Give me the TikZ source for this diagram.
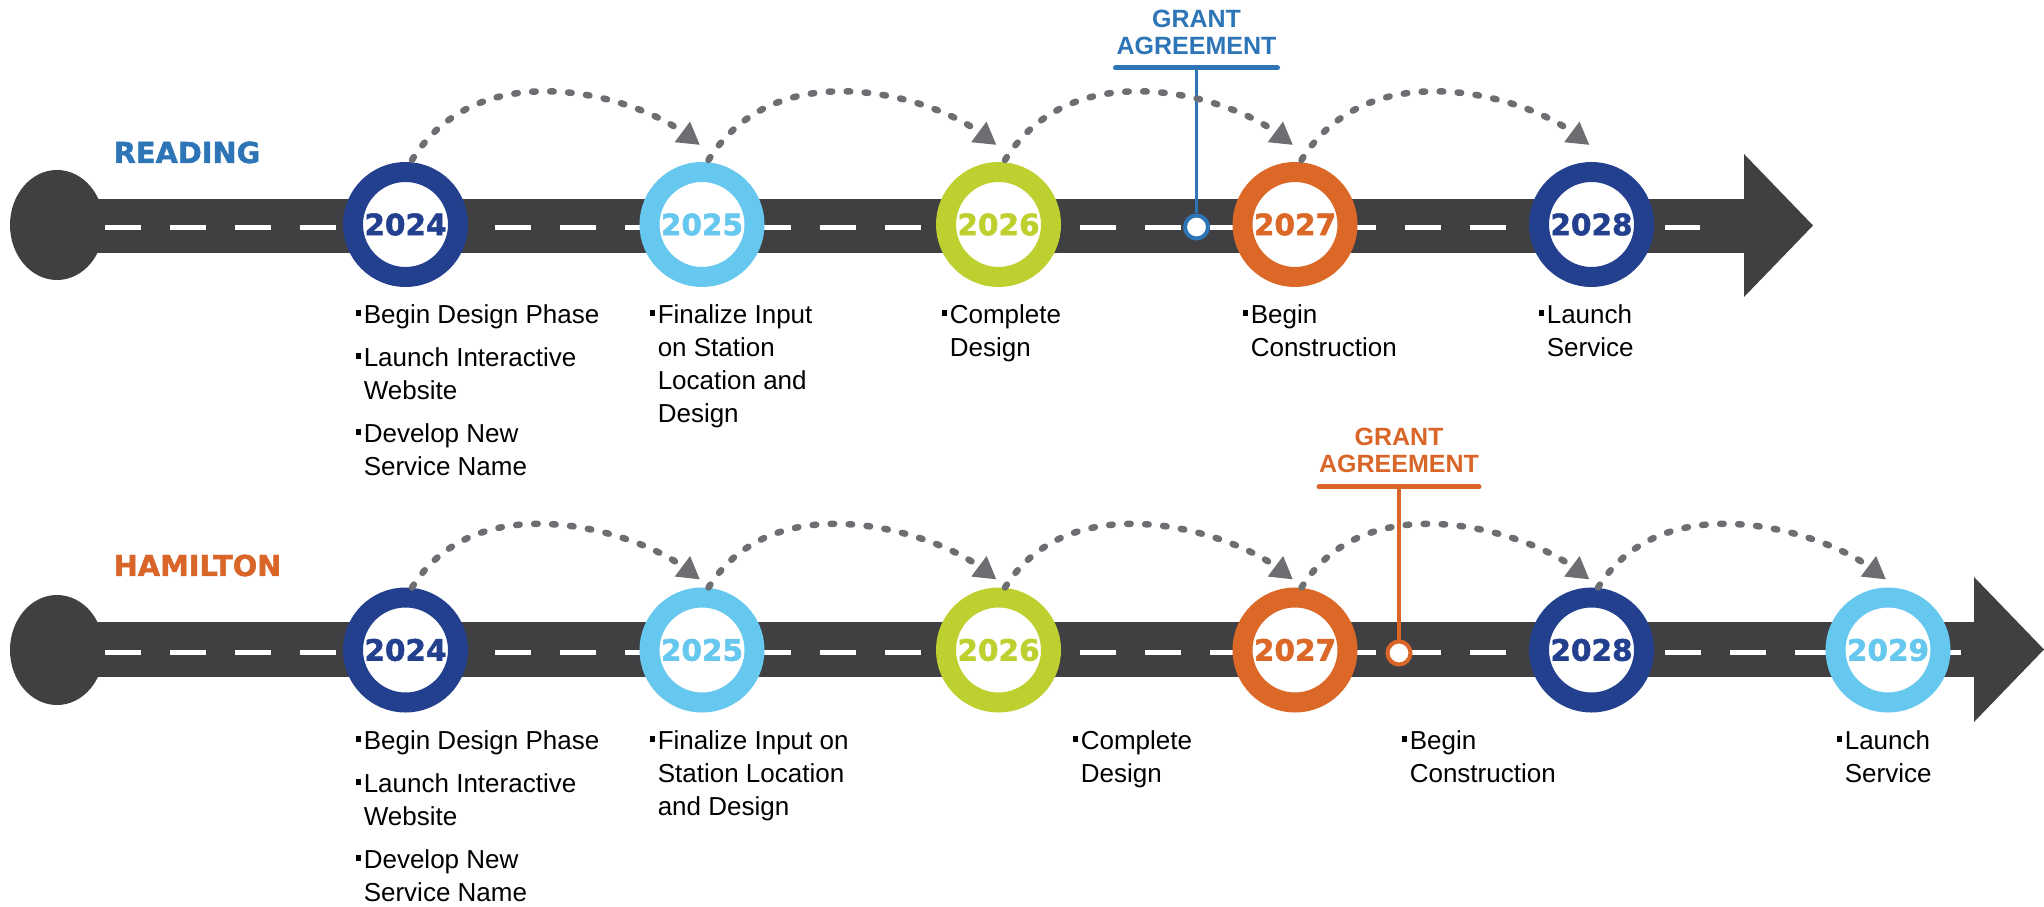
\documentclass[tikz,border=0pt]{standalone}
\usepackage{fontspec}
\setmainfont{Liberation Sans}
\newfontfamily\heavyfont{DejaVu Sans}[BoldFeatures={FakeBold=1.6}]
\usetikzlibrary{arrows.meta}

\definecolor{roadgray}{RGB}{64,64,66}
\definecolor{hopgray}{RGB}{109,110,113}
\definecolor{navy}{RGB}{35,64,143}
\definecolor{sky}{RGB}{102,199,239}
\definecolor{lime}{RGB}{190,208,48}
\definecolor{rust}{RGB}{220,104,40}
\definecolor{readblue}{RGB}{45,117,182}
\definecolor{hamorange}{RGB}{217,101,41}

% bullet and hanging indent for the notes
\newcommand{\bulpt}{\rule[0.3em]{0.21em}{0.21em}\hspace{0.1em}}
\newcommand{\hangpt}{\hspace*{0.31em}}

\begin{document}
\begin{tikzpicture}[
       year/.style={
         circle,
         draw=#1,
         text=#1,
         fill=white,
         line width=0.2cm,
         inner sep=0pt,
         minimum size=1.05cm,
         font=\heavyfont\bfseries\fontsize{8.4pt}{10pt}\selectfont
       },
       stop/.style={
         circle,
         draw=#1,
         fill=white,
         line width=0.04cm,
         inner sep=0pt,
         minimum size=0.23cm
       },
       hop/.style={
         draw=hopgray,
         line width=0.065cm,
         line cap=round,
         dash pattern=on 0.035cm off 0.145cm,
         -{Triangle[length=0.22cm,width=0.24cm]}
       },
       lane/.style={
         draw=white,
         line width=0.05cm,
         dash pattern=on 0.36cm off 0.29cm
       },
       bar/.style={
         draw=#1,
         line width=0.05cm,
         line cap=round
       },
       grant/.style={
         text=#1,
         anchor=south,
         align=center,
         inner sep=0pt,
         font=\bfseries\fontsize{7.11pt}{7.68pt}\selectfont
       },
       city/.style={
         text=#1,
         anchor=west,
         inner sep=0pt,
         font=\heavyfont\bfseries\fontsize{8.2pt}{10pt}\selectfont
       },
       notes/.style={
         anchor=north west,
         align=left,
         inner sep=0pt,
         font=\fontsize{7.4pt}{9.39pt}\selectfont
       }
     ]

       \useasboundingbox (0,0) rectangle (20.44,-9.07);

       % roads
       \fill[roadgray] (0.57,-2.25) ellipse [x radius=0.47, y radius=0.55];
       \fill[roadgray] (0.57,-1.99) rectangle (17.45,-2.53);
       \fill[roadgray] (17.44,-1.54) -- (18.13,-2.255) -- (17.44,-2.97) -- cycle;

       \fill[roadgray] (0.57,-6.50) ellipse [x radius=0.47, y radius=0.55];
       \fill[roadgray] (0.57,-6.22) rectangle (19.75,-6.77);
       \fill[roadgray] (19.74,-5.77) -- (20.44,-6.495) -- (19.74,-7.22) -- cycle;

       \draw[lane] (1.05,-2.28) -- (17.00,-2.28);
       \draw[lane] (1.05,-6.52) -- (19.62,-6.52);

       % grant agreements
       \node (rgrant) at (11.965,-2.27) [stop=readblue]{};
       \coordinate (rbar) at (11.965,-0.68);
       \draw[readblue,line width=0.035cm] (rbar) -- (rgrant);
       \draw[bar=readblue] ([xshift=-0.81cm]rbar) -- ([xshift=0.81cm]rbar);
       \node (rgtxt) at (11.965,-0.55) [grant=readblue]{GRANT\\AGREEMENT};

       \node (hgrant) at (13.99,-6.53) [stop=hamorange]{};
       \coordinate (hbar) at (13.99,-4.87);
       \draw[hamorange,line width=0.035cm] (hbar) -- (hgrant);
       \draw[bar=hamorange] ([xshift=-0.80cm]hbar) -- ([xshift=0.80cm]hbar);
       \node (hgtxt) at (13.99,-4.73) [grant=hamorange]{GRANT\\AGREEMENT};

       % years
       \node (r24) at (4.055,-2.245) [year=navy]{2024};
       \node (r25) at (7.02,-2.245) [year=sky]{2025};
       \node (r26) at (9.985,-2.245) [year=lime]{2026};
       \node (r27) at (12.95,-2.245) [year=rust]{2027};
       \node (r28) at (15.915,-2.245) [year=navy]{2028};

       \node (h24) at (4.055,-6.50) [year=navy]{2024};
       \node (h25) at (7.02,-6.50) [year=sky]{2025};
       \node (h26) at (9.985,-6.50) [year=lime]{2026};
       \node (h27) at (12.95,-6.50) [year=rust]{2027};
       \node (h28) at (15.915,-6.50) [year=navy]{2028};
       \node (h29) at (18.88,-6.50) [year=sky]{2029};

       \draw[hop] ([yshift=0.02cm,xshift=0.065cm]r24.north) .. controls +(0.68,1.095) and +(-0.66,0.49) .. ([xshift=-0.02cm,yshift=0.17cm]r25.north);
       \draw[hop] ([yshift=0.02cm,xshift=0.065cm]r25.north) .. controls +(0.68,1.095) and +(-0.66,0.49) .. ([xshift=-0.02cm,yshift=0.17cm]r26.north);
       \draw[hop] ([yshift=0.02cm,xshift=0.065cm]r26.north) .. controls +(0.68,1.095) and +(-0.66,0.49) .. ([xshift=-0.02cm,yshift=0.17cm]r27.north);
       \draw[hop] ([yshift=0.02cm,xshift=0.065cm]r27.north) .. controls +(0.68,1.095) and +(-0.66,0.49) .. ([xshift=-0.02cm,yshift=0.17cm]r28.north);

       \draw[hop] ([xshift=0.065cm]h24.north) .. controls +(0.66,1.06) and +(-0.633,0.475) .. ([xshift=-0.02cm,yshift=0.08cm]h25.north);
       \draw[hop] ([xshift=0.065cm]h25.north) .. controls +(0.66,1.06) and +(-0.633,0.475) .. ([xshift=-0.02cm,yshift=0.08cm]h26.north);
       \draw[hop] ([xshift=0.065cm]h26.north) .. controls +(0.66,1.06) and +(-0.633,0.475) .. ([xshift=-0.02cm,yshift=0.08cm]h27.north);
       \draw[hop] ([xshift=0.065cm]h27.north) .. controls +(0.66,1.06) and +(-0.633,0.475) .. ([xshift=-0.02cm,yshift=0.08cm]h28.north);
       \draw[hop] ([xshift=0.065cm]h28.north) .. controls +(0.66,1.06) and +(-0.633,0.475) .. ([xshift=-0.02cm,yshift=0.08cm]h29.north);

       % labels
       \node (reading) at (1.13,-1.525) [city=readblue]{READING};
       \node (hamilton) at (1.13,-5.655) [city=hamorange]{HAMILTON};

       \node (r24txt) at (3.55,-3.04) [notes]{\bulpt Begin Design Phase\\[0.1cm]
         \bulpt Launch Interactive\\ \hangpt Website\\[0.1cm]
         \bulpt Develop New\\ \hangpt Service Name};
       \node (r25txt) at (6.49,-3.04) [notes]{\bulpt Finalize Input\\ \hangpt on Station\\
         \hangpt Location and\\ \hangpt Design};
       \node (r26txt) at (9.41,-3.04) [notes]{\bulpt Complete\\ \hangpt Design};
       \node (r27txt) at (12.42,-3.04) [notes]{\bulpt Begin\\ \hangpt Construction};
       \node (r28txt) at (15.38,-3.04) [notes]{\bulpt Launch\\ \hangpt Service};

       \node (h24txt) at (3.55,-7.30) [notes]{\bulpt Begin Design Phase\\[0.1cm]
         \bulpt Launch Interactive\\ \hangpt Website\\[0.1cm]
         \bulpt Develop New\\ \hangpt Service Name};
       \node (h25txt) at (6.49,-7.30) [notes]{\bulpt Finalize Input on\\ \hangpt Station Location\\
         \hangpt and Design};
       \node (h26txt) at (10.72,-7.30) [notes]{\bulpt Complete\\ \hangpt Design};
       \node (h27txt) at (14.01,-7.30) [notes]{\bulpt Begin\\ \hangpt Construction};
       \node (h29txt) at (18.36,-7.30) [notes]{\bulpt Launch\\ \hangpt Service};

\end{tikzpicture}
\end{document}
